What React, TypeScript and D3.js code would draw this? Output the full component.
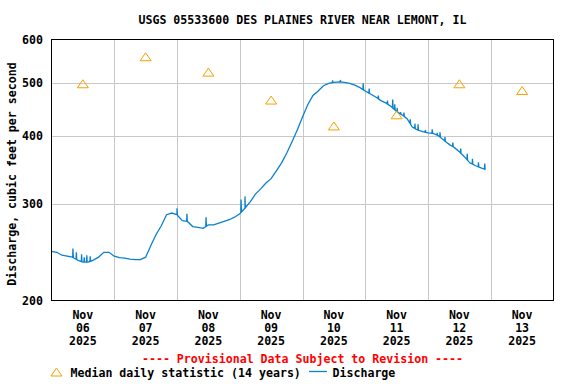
import React, { useEffect, useRef } from 'react';
import * as d3 from 'd3';

const title = 'USGS 05533600 DES PLAINES RIVER NEAR LEMONT, IL';
const yTicks = [200, 300, 400, 500, 600];
const dayLabels = ['06', '07', '08', '09', '10', '11', '12', '13'];
const medianValues = [498, 558, 523, 465, 417, 437, 498, 484];

// discharge every 2 hours from Nov 06 00:00
const discharge = [
  246, 245, 242, 241, 240, 237, 235, 235, 237, 240, 245, 245,
  241, 239.5, 239, 238, 237.5, 237.5, 240, 252, 264, 274, 287, 289,
  287, 280, 279, 273, 272, 271, 275, 275, 277, 279, 281, 284,
  288, 295, 303, 313, 320, 328, 334, 345, 357, 372, 390, 410,
  433, 456, 474, 483, 494, 499, 501, 502, 501, 499, 495, 490,
  483, 477, 471, 464, 459, 452, 443, 437, 430, 415, 410, 407,
  405, 404, 400, 393, 386, 381, 374, 366, 357, 353, 350, 347,
];

// single 15-minute readings sticking out of the trace: [hour, cfs]
const spikes: [number, number][] = [
  [8.2, 249], [9.5, 245], [11.5, 243], [12.5, 240], [13.5, 242], [14.8, 241],
  [48, 295], [51.8, 288], [59.1, 284], [72.5, 306], [74, 310],
  [107.5, 505], [110.5, 506], [119.2, 499], [121.5, 488], [125, 474], [128.5, 464],
  [130.5, 466], [131.3, 457], [132.2, 450], [133.5, 442], [134.8, 441],
  [137.2, 429], [139, 421], [140.2, 420], [143, 410], [145.6, 411], [147.5, 405],
  [148.6, 406], [150.5, 398], [152, 387], [153.5, 389], [156.5, 379], [159, 371],
  [161, 363], [163.3, 358], [165.7, 356],
];

const App: React.FC = () => {
  const svgRef = useRef<SVGSVGElement>(null);

  useEffect(() => {
    if (!svgRef.current) return;
    const svg = d3.select(svgRef.current);
    svg.selectAll('*').remove();

    const font = "'DejaVu Sans Mono', monospace";
    const fs = '11.6px';
    const left = 51.5, right = 553.5, top = 39.5, bottom = 300.5;

    const x = d3.scaleLinear().domain([0, 192]).range([left, right]);
    const y = d3.scaleLog().domain([200, 600]).range([bottom, top]);

    // grid
    for (let d = 1; d < 8; d++) {
      const gx = Math.round(x(d * 24)) + 0.5;
      svg.append('line').attr('x1', gx).attr('x2', gx).attr('y1', top).attr('y2', bottom)
        .style('stroke', '#c8c8c8').style('stroke-width', 1);
    }
    yTicks.slice(1, -1).forEach(t => {
      const gy = Math.round(y(t)) + 0.5;
      svg.append('line').attr('x1', left).attr('x2', right).attr('y1', gy).attr('y2', gy)
        .style('stroke', '#c8c8c8').style('stroke-width', 1);
    });

    // discharge trace, with the spikes as single readings
    const hours = discharge.map((_, i) => i * 2);
    const base = d3.scaleLinear().domain(hours).range(discharge);
    const pts: [number, number][] = discharge.map((v, i) => [i * 2, v]);
    spikes.forEach(([h, v]) => {
      pts.push([h - 0.1, base(h - 0.1)]);
      pts.push([h, v]);
      pts.push([h + 0.15, base(h + 0.15)]);
    });
    pts.sort((a, b) => a[0] - b[0]);
    const line = d3.line<[number, number]>()
      .x(d => x(d[0])).y(d => y(d[1]));
    svg.append('path').datum(pts).attr('d', line)
      .style('fill', 'none').style('stroke', '#0a80d0').style('stroke-width', 1.3);

    // median triangles
    const tri = (cx: number, cy: number) =>
      `M${cx - 5.5},${cy + 4}L${cx},${cy - 4}L${cx + 5.5},${cy + 4}Z`;
    medianValues.forEach((v, i) => {
      svg.append('path').attr('d', tri(x(i * 24 + 12), y(v)))
        .style('fill', 'none').style('stroke', '#f5a000').style('stroke-width', 1);
    });

    // frame
    svg.append('rect').attr('x', left).attr('y', top)
      .attr('width', right - left).attr('height', bottom - top)
      .style('fill', 'none').style('stroke', '#000').style('stroke-width', 1);

    const text = (tx: number, ty: number, s: string, anchor = 'middle', color = '#000') =>
      svg.append('text').attr('x', tx).attr('y', ty).attr('text-anchor', anchor)
        .style('font-family', font).style('font-size', fs).style('font-weight', 'bold')
        .style('fill', color).text(s);

    text((left + right) / 2, 24, title);

    yTicks.forEach(t => text(43, y(t) + 4, String(t), 'end'));

    text(0, 0, 'Discharge, cubic feet per second')
      .attr('transform', 'translate(16,174) rotate(-90)');

    dayLabels.forEach((d, i) => {
      const lx = x(i * 24 + 12);
      text(lx, 318.5, 'Nov');
      text(lx, 331.5, d);
      text(lx, 344.5, '2025');
    });

    text((left + right) / 2, 363, '---- Provisional Data Subject to Revision ----', 'middle', '#ff0000');

    svg.append('path').attr('d', tri(56.5, 372))
      .style('fill', 'none').style('stroke', '#f5a000').style('stroke-width', 1);
    text(70.5, 377, 'Median daily statistic (14 years)', 'start');
    svg.append('line').attr('x1', 309).attr('x2', 327).attr('y1', 371.5).attr('y2', 371.5)
      .style('stroke', '#0a80d0').style('stroke-width', 1.3);
    text(332.5, 377, 'Discharge', 'start');
  }, []);

  return (
    <svg ref={svgRef} width={576} height={384}
      style={{ position: 'absolute', left: 0, top: 0, background: '#fff' }} />
  );
};

export default App;
